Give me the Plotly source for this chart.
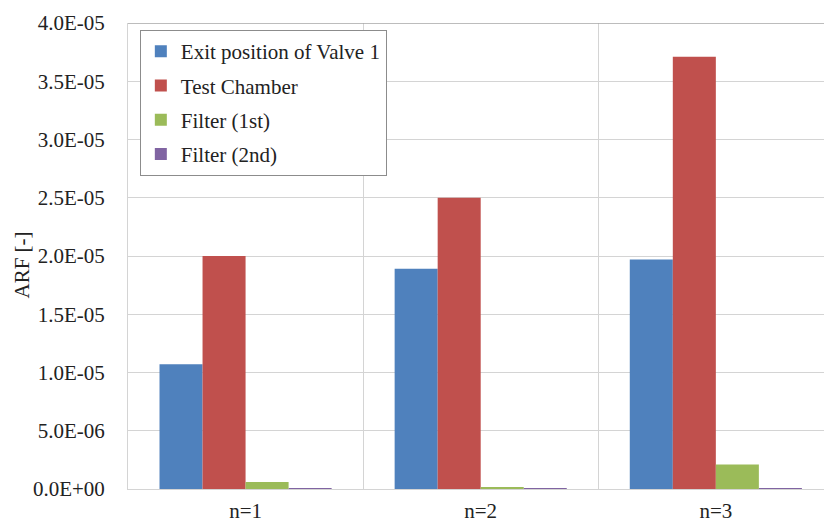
import plotly.graph_objects as go

# Categories and series values (ARF)
categories = ["n=1", "n=2", "n=3"]
exit_valve1 = [1.07e-05, 1.89e-05, 1.97e-05]
test_chamber = [2.00e-05, 2.50e-05, 3.71e-05]
filter_1st = [6.0e-07, 1.0e-07, 2.1e-06]
filter_2nd = [5.0e-08, 3.0e-08, 5.0e-08]

series_names = ["Exit position of Valve 1", "Test Chamber", "Filter (1st)", "Filter (2nd)"]
series_values = [exit_valve1, test_chamber, filter_1st, filter_2nd]
series_colors = ["#4F81BD", "#C0504D", "#9BBB59", "#8064A2"]

y_tick_values = [0, 5e-06, 1e-05, 1.5e-05, 2e-05, 2.5e-05, 3e-05, 3.5e-05, 4e-05]
y_tick_labels = ["0.0E+00", "5.0E-06", "1.0E-05", "1.5E-05", "2.0E-05",
                 "2.5E-05", "3.0E-05", "3.5E-05", "4.0E-05"]

FONT = "Liberation Serif, Times New Roman, serif"
TEXT = "#222222"
GRID = "#d4d4d4"
FS = 21

x_pos = list(range(len(categories)))

fig = go.Figure()
for i, (name, vals, col) in enumerate(zip(series_names, series_values, series_colors)):
    fig.add_trace(go.Bar(
        x=x_pos, y=vals, name=name,
        marker=dict(color=col, line=dict(width=0)),
        legendgroup=f"g{i}",
    ))

fig.update_layout(
    width=824, height=522,
    margin=dict(l=128, r=0, t=23, b=33),
    paper_bgcolor="white", plot_bgcolor="white",
    barmode="group", bargap=0.268, bargroupgap=0,
    font=dict(family=FONT, size=FS, color=TEXT),
    showlegend=True,
    legend=dict(
        x=0.017, y=0.985, xanchor="left", yanchor="top",
        bgcolor="white", bordercolor="#8c8c8c", borderwidth=1,
        font=dict(family=FONT, size=FS, color=TEXT),
        traceorder="grouped", tracegroupgap=4,
        itemwidth=30,
    ),
    xaxis=dict(
        range=[-0.5, 2.46],
        tickvals=x_pos, ticktext=categories,
        showgrid=False, zeroline=False,
        showline=True, linecolor=GRID, linewidth=1,
        ticks="", ticklabelstandoff=3, automargin=False,
        tickfont=dict(family=FONT, size=FS, color=TEXT),
        minor=dict(tickvals=[0.5, 1.5], showgrid=True, gridcolor=GRID, gridwidth=1, ticks=""),
    ),
    yaxis=dict(
        range=[0, 4e-05],
        tickvals=y_tick_values, ticktext=y_tick_labels,
        showgrid=True, gridcolor=GRID, gridwidth=1,
        zeroline=False,
        showline=True, linecolor=GRID, linewidth=1,
        ticks="", ticklabelstandoff=18, automargin=False,
        tickfont=dict(family=FONT, size=FS, color=TEXT),
    ),
)

# darker top border of the plot area
fig.add_shape(type="line", xref="paper", yref="y", x0=0, x1=1, y0=4e-05, y1=4e-05,
              line=dict(color="#a6a6a6", width=1.5))

# y-axis title
fig.add_annotation(
    text="ARF [-]", textangle=-90,
    xref="paper", yref="paper", x=-0.152, y=0.48,
    xanchor="center", yanchor="middle", showarrow=False,
    font=dict(family=FONT, size=FS, color=TEXT),
)

fig.write_html("out.html")
